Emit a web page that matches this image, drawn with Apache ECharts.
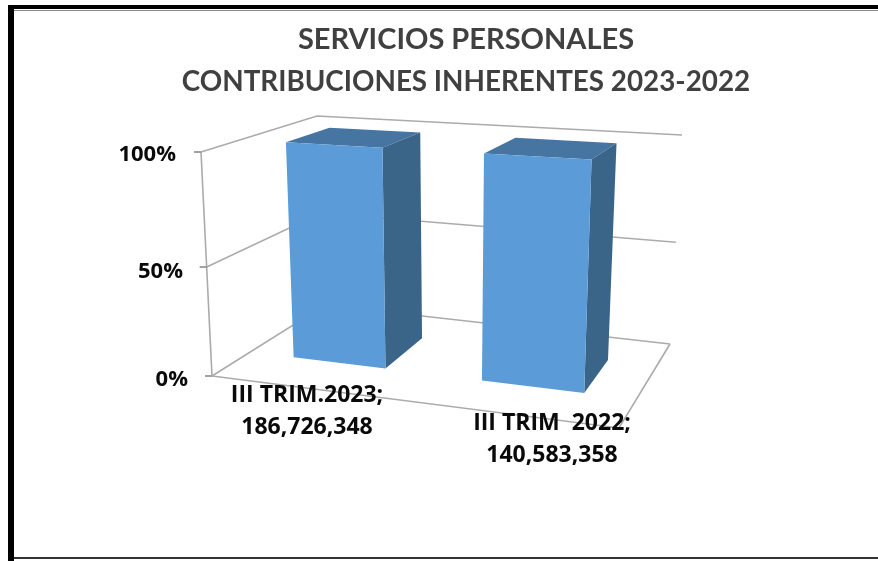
<!DOCTYPE html>
<html>
<head>
<meta charset="utf-8">
<style>
  html, body { margin: 0; background: #fff; }
  #chart { width: 878px; height: 561px; }
</style>
<script src="https://cdn.jsdelivr.net/npm/echarts@6/dist/echarts.min.js"></script>
</head>
<body>
<div id="chart"></div>
<script>
const categories = ['III TRIM.2023', 'III TRIM  2022'];
const amounts = [186726348, 140583358];
const stackShare = [100, 100]; // 100% stacked, each column is alone in its stack
const valueTicks = [0, 50, 100];
const tickLabels = ['0%', '50%', '100%'];

// box corners in pixels, bottom (0%) and top (100%) of the 3d plot
const floor = { fl: [212, 376], fr: [619, 428], bl: [325, 305], br: [670, 344] };
const roof = { fl: [201, 152], fr: [628, 177], bl: [317, 116], br: [682, 135] };
const gridBox = { left: 201, top: 152, width: 400, height: 224 };
const barSpan = [[0.112, 0.35], [0.6, 0.865]];
const barDepth = [0.34, 0.74];
const labelCenter = [[307, 411], [552, 439]];

const mix = (a, b, t) => [a[0] + (b[0] - a[0]) * t, a[1] + (b[1] - a[1]) * t];

function corner(plane, u, d) {
  return mix(mix(plane.fl, plane.fr, u), mix(plane.bl, plane.br, u), d);
}

// u and v go through the axes, depth is the one thing the grid does not have
function project(api, u, d, v) {
  const p = api.coord([u, v]);
  const nu = (p[0] - gridBox.left) / gridBox.width;
  const t = (gridBox.top + gridBox.height - p[1]) / gridBox.height;
  const nv = t / (1 + 0.055 * (1 - t)); // slight foreshortening
  return mix(corner(floor, nu, d), corner(roof, nu, d), nv);
}

const wallStyle = { stroke: '#ababab', lineWidth: 1.6, fill: null };

function line(points) {
  return { type: 'polyline', shape: { points }, style: wallStyle };
}

function renderWall(params, api) {
  const v = api.value(1);
  const children = [
    line([project(api, 0, 0, v), project(api, 0, 1, v), project(api, 1, 1, v)]),
  ];
  const front = project(api, 0, 0, v);
  children.push({
    type: 'line',
    shape: { x1: front[0] - 7, y1: front[1], x2: front[0], y2: front[1] },
    style: { stroke: '#8c8c8c', lineWidth: 1.6 }
  });
  if (params.dataIndex === 0) {
    children.push(line([project(api, 0, 0, 0), project(api, 1, 0, 0), project(api, 1, 1, 0)]));
    children.push(line([project(api, 0, 0, 0), project(api, 0, 0, 100)]));
  }
  return { type: 'group', children };
}

function renderBar(params, api) {
  const i = api.value(0);
  const v = api.value(1);
  const [u0, u1] = barSpan[i];
  const [d0, d1] = barDepth;
  const face = (points, fill) => ({ type: 'polygon', shape: { points }, style: { fill } });
  return {
    type: 'group',
    children: [
      face([project(api, u0, d0, v), project(api, u1, d0, v), project(api, u1, d1, v), project(api, u0, d1, v)], '#4675a2'),
      face([project(api, u1, d0, 0), project(api, u1, d1, 0), project(api, u1, d1, v), project(api, u1, d0, v)], '#3a6488'),
      face([project(api, u0, d0, 0), project(api, u1, d0, 0), project(api, u1, d0, v), project(api, u0, d0, v)], '#5b9bd7')
    ]
  };
}

function renderLabel(params, api) {
  const i = api.value(0);
  return {
    type: 'text',
    x: labelCenter[i][0],
    y: labelCenter[i][1],
    style: {
      text: categories[i] + ';\n' + amounts[i].toLocaleString('en-US'),
      font: '700 23px "Open Sans"',
      fill: '#0a0a0a',
      align: 'center',
      verticalAlign: 'middle',
      lineHeight: 32
    }
  };
}

const tickFont = { fontFamily: 'Open Sans', fontWeight: 700, fontSize: 22, color: '#0a0a0a' };
const titleFont = { fontFamily: 'Lato', fontWeight: 700, color: '#404040', lineHeight: 42 };

const chart = echarts.init(document.getElementById('chart'), null, { renderer: 'canvas' });

chart.setOption({
  animation: false,
  backgroundColor: '#fff',
  title: {
    text: '{a|SERVICIOS PERSONALES}\n{b|CONTRIBUCIONES INHERENTES 2023-2022}',
    left: 461,
    top: 14,
    textAlign: 'center',
    textStyle: {
      rich: {
        a: { ...titleFont, fontSize: 29 },
        b: { ...titleFont, fontSize: 27.8 }
      }
    }
  },
  grid: { left: gridBox.left, top: gridBox.top, width: gridBox.width, height: gridBox.height },
  xAxis: { type: 'value', min: 0, max: 1, show: false },
  yAxis: {
    type: 'value',
    min: 0,
    max: 100,
    interval: 50,
    axisLine: { show: false },
    axisTick: { show: false },
    splitLine: { show: false },
    axisLabel: {
      margin: 13,
      formatter: value => {
        const label = tickLabels[valueTicks.indexOf(value)];
        return `{t${value}|${label}}`;
      },
      rich: {
        t0: { ...tickFont, padding: [8, 0, 0, 0] },
        t50: { ...tickFont, padding: [16, 5, 0, 0] },
        t100: { ...tickFont, padding: [6, 12, 0, 0] }
      }
    }
  },
  graphic: [
    { type: 'rect', shape: { x: 8, y: 5, width: 870, height: 4 }, style: { fill: '#000' } },
    { type: 'rect', shape: { x: 12, y: 10, width: 866, height: 1 }, style: { fill: '#8a8a8a' } },
    { type: 'rect', shape: { x: 8, y: 5, width: 6, height: 556 }, style: { fill: '#000' } },
    { type: 'rect', shape: { x: 14, y: 557, width: 864, height: 2 }, style: { fill: '#333' } }
  ],
  series: [
    {
      type: 'custom',
      name: 'wall',
      clip: false,
      renderItem: renderWall,
      data: valueTicks.map(v => [0, v]),
      z: 1
    },
    {
      type: 'custom',
      name: 'bars',
      clip: false,
      renderItem: renderBar,
      data: stackShare.map((v, i) => [i, v]),
      z: 2
    },
    {
      type: 'custom',
      name: 'labels',
      clip: false,
      renderItem: renderLabel,
      data: categories.map((c, i) => [i, 0]),
      z: 3
    }
  ]
});
</script>
</body>
</html>
